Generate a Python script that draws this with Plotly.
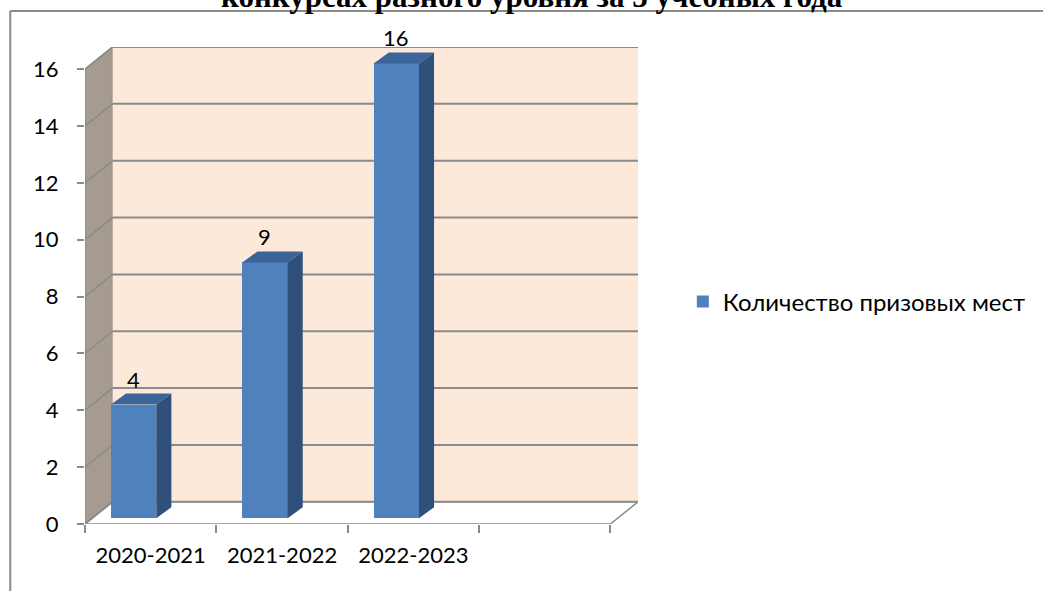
import plotly.graph_objects as go

categories = ["2020-2021", "2021-2022", "2022-2023"]
values = [4, 9, 16]
series_name = "Количество призовых мест"
y_ticks = [0, 2, 4, 6, 8, 10, 12, 14, 16]
title_text = "конкурсах разного уровня за 3 учебных года"

# pseudo-3D geometry (in axis units)
N_SLOTS = 4
DX, DY = 0.21, 0.78          # depth of walls
BDX, BDY = 0.115, 0.39       # depth of bars
BASE = 0.2                   # bars stand mid-depth
BAR_OFF, BAR_W = 0.37, 0.345
YMAX = max(y_ticks)

FRONT = "#4f81bd"
TOP = "#3b6599"
SIDE = "#30507c"
GRID = "#8a8a8a"
FONT = "Lato"

fig = go.Figure()
xs = [i + BAR_OFF for i in range(len(categories))]
fig.add_trace(go.Bar(x=xs, y=values, base=BASE, width=BAR_W, name=series_name,
                     marker=dict(color=FRONT, line=dict(width=0)), showlegend=True))

shapes = []
# left wall
shapes.append(dict(type="path", xref="x", yref="y", layer="below",
                   path=f"M 0,0 L {DX},{DY} L {DX},{YMAX+DY} L 0,{YMAX} Z",
                   fillcolor="#a59b91", line=dict(color=GRID, width=1.5)))
# back wall
shapes.append(dict(type="rect", xref="x", yref="y", layer="below",
                   x0=DX, x1=N_SLOTS + DX, y0=DY, y1=YMAX + DY,
                   fillcolor="#fde9d9", line=dict(width=0)))
# floor
shapes.append(dict(type="path", xref="x", yref="y", layer="below",
                   path=f"M 0,0 L {N_SLOTS},0 L {N_SLOTS+DX},{DY} L {DX},{DY} Z",
                   fillcolor="white", line=dict(color=GRID, width=1.5)))
# gridlines
for v in y_ticks:
    shapes.append(dict(type="line", xref="x", yref="y", layer="below",
                       x0=DX, x1=N_SLOTS + DX, y0=v + DY, y1=v + DY,
                       line=dict(color=GRID, width=2)))
    shapes.append(dict(type="line", xref="x", yref="y", layer="below",
                       x0=0, x1=DX, y0=v, y1=v + DY,
                       line=dict(color=GRID, width=1.5)))
# bar top & side faces
for x, v in zip(xs, values):
    l, r = x - BAR_W / 2, x + BAR_W / 2
    t = BASE + v
    shapes.append(dict(type="path", xref="x", yref="y", layer="above",
                       path=f"M {l},{t} L {l+BDX},{t+BDY} L {r+BDX},{t+BDY} L {r},{t} Z",
                       fillcolor=TOP, line=dict(width=0)))
    shapes.append(dict(type="path", xref="x", yref="y", layer="above",
                       path=f"M {r},{BASE} L {r+BDX},{BASE+BDY} L {r+BDX},{t+BDY} L {r},{t} Z",
                       fillcolor=SIDE, line=dict(width=0)))
# outer chart frame (left & top edges)
FRAME_Y = (524 - 11) / 477
FRAME_X = (10 - 85) / 555
shapes.append(dict(type="line", xref="paper", yref="paper", x0=FRAME_X, x1=FRAME_X,
                   y0=FRAME_Y, y1=-0.2, line=dict(color="#8a8a8a", width=2)))
shapes.append(dict(type="line", xref="paper", yref="paper", x0=FRAME_X, x1=1.9,
                   y0=FRAME_Y, y1=FRAME_Y, line=dict(color="#8a8a8a", width=2)))

annotations = []
for x, v in zip(xs, values):
    annotations.append(dict(x=x, y=BASE + v + BDY, xref="x", yref="y", text=str(v),
                            showarrow=False, yanchor="bottom", yshift=-1,
                            font=dict(family=FONT, size=22, color="black")))
annotations.append(dict(x=(534 - 85) / 555, y=(524 - 16) / 477, xref="paper", yref="paper",
                        text=f"<b>{title_text}</b>", showarrow=False, yanchor="bottom",
                        xanchor="center", yshift=0,
                        font=dict(family="Liberation Serif", size=31, color="black")))

fig.update_layout(
    width=1043, height=591,
    margin=dict(l=85, r=403, t=47, b=67, pad=0),
    paper_bgcolor="white", plot_bgcolor="white",
    shapes=shapes, annotations=annotations,
    bargap=0,
    font=dict(family=FONT, size=22, color="black"),
    xaxis=dict(range=[0, N_SLOTS + DX], showgrid=False, zeroline=False, showline=False,
               tickmode="array", tickvals=[i + 0.5 for i in range(len(categories))],
               ticktext=categories, ticks="", ticklabelstandoff=16,
               tickfont=dict(family=FONT, size=22),
               minor=dict(tickmode="array", tickvals=list(range(N_SLOTS + 1)), ticks="outside",
                          ticklen=8, tickcolor=GRID, tickwidth=1.5, showgrid=False)),
    yaxis=dict(range=[0, YMAX + DY], showgrid=False, zeroline=False, showline=False,
               tickmode="array", tickvals=y_ticks, ticks="outside", ticklen=7,
               tickcolor=GRID, tickwidth=1.5, ticklabelstandoff=14,
               tickfont=dict(family=FONT, size=22)),
    legend=dict(x=(685 - 85) / 555, y=(524 - 302) / 477, xref="paper", yref="paper",
                xanchor="left", yanchor="middle", font=dict(family=FONT, size=24),
                bgcolor="rgba(0,0,0,0)"),
)

fig.write_html("out.html", config={"displayModeBar": False},
               post_script="document.body.style.margin='0';")
